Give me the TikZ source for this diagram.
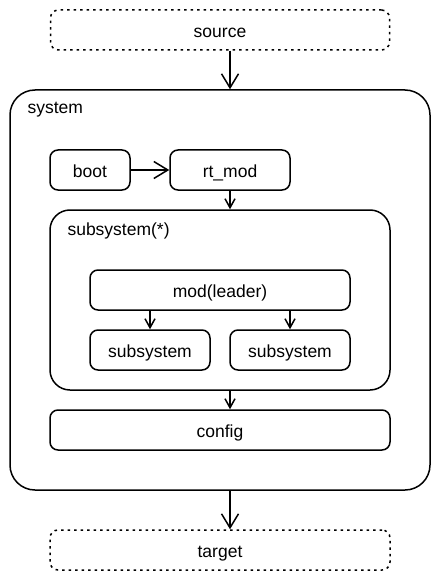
\documentclass[tikz,border=0pt]{standalone}
\usepackage{fontspec}
\setmainfont{Liberation Sans}
\usetikzlibrary{arrows.meta}

\begin{document}
\begin{tikzpicture}[x=1pt,y=-1pt,
    every node/.style={font=\fontsize{17.5}{21}\selectfont, text height=15pt, text depth=0pt},
    box/.style={draw, line width=1.5pt, rounded corners=8pt, inner sep=0pt, minimum height=40pt},
    ghost/.style={box, line width=1.5pt, dash pattern=on 2.5pt off 4pt},
    frame/.style={draw, line width=1.5pt, inner sep=0pt},
    arr/.style={line width=1.5pt, -{Straight Barb[length=14pt,width=17pt,line width=1.5pt]}},
    arrsm/.style={line width=1.5pt, -{Straight Barb[length=9pt,width=10pt,line width=1.5pt]}}]
    \useasboundingbox (0,0) rectangle (440,580);
    % outer frames
    \node[frame, rounded corners=25pt, minimum width=420pt, minimum height=400pt] (system) at (220,290) {};
    \node[anchor=west] (systemlbl) at (24,106) {system};
    \node[frame, rounded corners=20pt, minimum width=340pt, minimum height=180pt] (subsys) at (220,300) {};
    \node[anchor=west] (subsyslbl) at (64,228) {subsystem(*)};
    % boxes
    \node[ghost, minimum width=339pt] (source) at (220,30) {source};
    \node[box, minimum width=80pt] (boot) at (90,170) {boot};
    \node[box, minimum width=120pt] (rtmod) at (230,170) {rt\_mod};
    \node[box, minimum width=260pt] (leader) at (220,290) {mod(leader)};
    \node[box, minimum width=120pt] (subA) at (150,350) {subsystem};
    \node[box, minimum width=120pt] (subB) at (290,350) {subsystem};
    \node[box, minimum width=340pt] (config) at (220,430) {config};
    \node[ghost, minimum width=340pt] (target) at (220,550) {target};
    % arrows
    \draw[arr] (source.south -| rtmod) -- (system.north -| rtmod);
    \draw[arr] (boot) -- (rtmod);
    \draw[arrsm] (rtmod) -- (subsys.north -| rtmod);
    \draw[arrsm] (leader.south -| subA) -- (subA);
    \draw[arrsm] (leader.south -| subB) -- (subB);
    \draw[arrsm] (subsys.south -| rtmod) -- (config.north -| rtmod);
    \draw[arr] (system.south -| rtmod) -- (target.north -| rtmod);
\end{tikzpicture}
\end{document}
